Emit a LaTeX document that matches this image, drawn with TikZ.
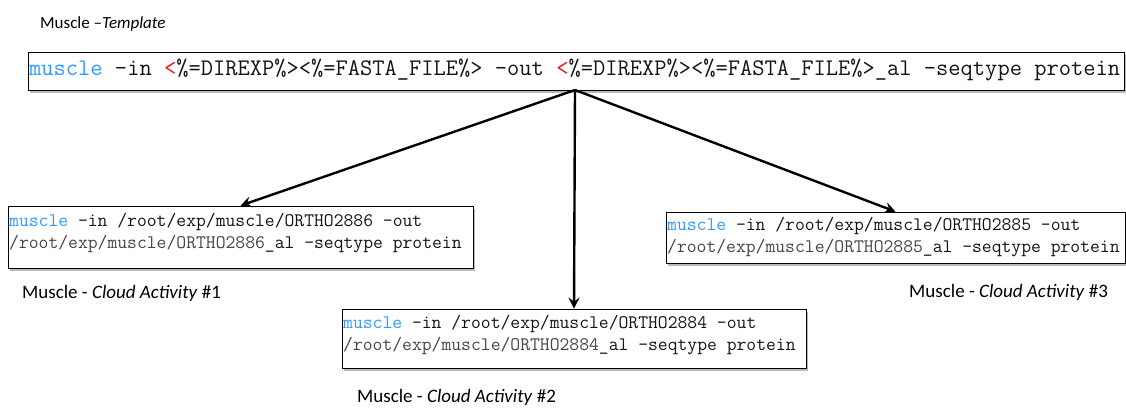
\documentclass[tikz,border=0pt]{standalone}
\usepackage{fontspec}
\setmainfont{Carlito}
\usetikzlibrary{shadows,arrows.meta}
\definecolor{kwblue}{RGB}{51,153,255}
\definecolor{ltred}{RGB}{240,20,20}
\definecolor{pathgray}{RGB}{70,70,70}
\definecolor{codeblack}{RGB}{20,20,20}
\begin{document}
\begin{tikzpicture}[x=1pt,y=-1pt,
  codebox/.style={draw=black,line width=0.8pt,fill=white,inner sep=0pt,
    drop shadow={shadow xshift=2pt,shadow yshift=-2.5pt,fill=black!45,opacity=0.6}},
  codetext/.style={anchor=north west,inner sep=0pt,align=left,text=codeblack,
    font=\ttfamily\fontsize{19.1}{22}\selectfont},
  label/.style={anchor=base west,inner sep=0pt,font=\fontsize{19}{22}\selectfont},
  link/.style={line width=2.4pt,-{Stealth[length=11pt,width=11pt,inset=4pt]}}]
\useasboundingbox (0,0) rectangle (1126,407);
% template
\node[label,font=\fontsize{17}{20}\selectfont] (tl) at (40,28) {Muscle \textendash\textit{Template}};
\node[codebox,minimum width=1096,minimum height=38] (tb) at (576,71) {};
\node[anchor=west,inner sep=0pt,text=codeblack,font=\ttfamily\fontsize{23.8}{26}\selectfont] (tt) at (29,70)
 {\textcolor{kwblue}{muscle} -in \textcolor{ltred}{<}\%=DIREXP\%><\%=FASTA\_FILE\%> -out \textcolor{ltred}{<}\%=DIREXP\%><\%=FASTA\_FILE\%>\_al -seqtype protein};
\coordinate (src) at (575,90);
% box 1
\node[codebox,minimum width=465,minimum height=62] (b1) at (240.5,237) {};
\node[codetext] (t1) at (9,213) {\textcolor{kwblue}{muscle} -in /root/exp/muscle/ORTHO2886 -out\\\textcolor{pathgray}{/root/exp/muscle/ORTHO2886}\_al -seqtype protein};
\node[label] (l1) at (22,298) {Muscle - \textit{Cloud Activity} \#1};
% box 2
\node[codebox,minimum width=464,minimum height=59] (b2) at (574,338.5) {};
\node[codetext] (t2) at (343,315) {\textcolor{kwblue}{muscle} -in /root/exp/muscle/ORTHO2884 -out\\\textcolor{pathgray}{/root/exp/muscle/ORTHO2884}\_al -seqtype protein};
\node[label] (l2) at (357,402) {Muscle - \textit{Cloud Activity} \#2};
% box 3
\node[codebox,minimum width=459,minimum height=51] (b3) at (895.5,237.5) {};
\node[codetext] (t3) at (667,217) {\textcolor{kwblue}{muscle} -in /root/exp/muscle/ORTHO2885 -out\\\textcolor{pathgray}{/root/exp/muscle/ORTHO2885}\_al -seqtype protein};
\node[label] (l3) at (909,297) {Muscle - \textit{Cloud Activity} \#3};
% arrows
\draw[link] (src) -- (b1.north);
\draw[link] (src) -- (b2.north);
\draw[link] (src) -- (b3.north);
\end{tikzpicture}
\end{document}
